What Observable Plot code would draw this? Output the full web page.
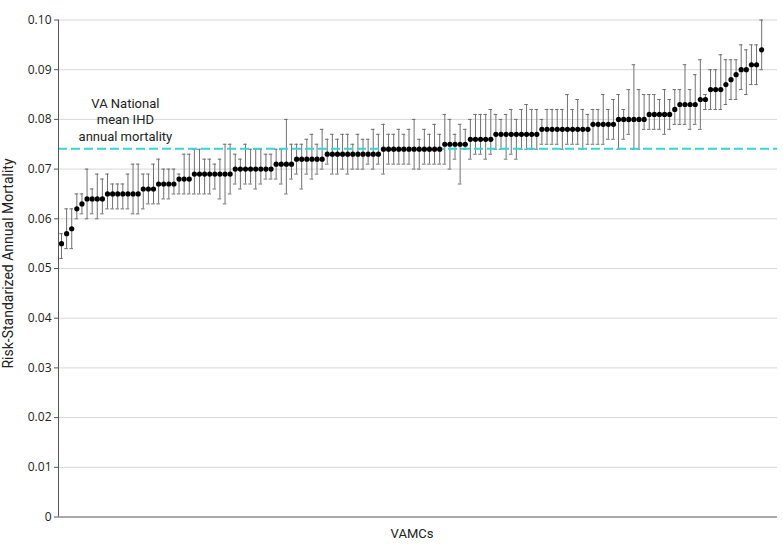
<!DOCTYPE html>
<html>
<head>
<meta charset="utf-8">
<script src="https://cdn.jsdelivr.net/npm/d3@7"></script>
<script src="https://cdn.jsdelivr.net/npm/@observablehq/plot@0.6"></script>
<style>
  html, body { margin: 0; padding: 0; background: #fff; }
  #chart svg { display: block; }
</style>
</head>
<body>
<div id="chart"></div>
<script>
// Risk-standardized annual mortality per VAMC (sorted), with interval bounds
const mortality = [
  0.055, 0.057, 0.058, 0.062, 0.063, 0.064, 0.064, 0.064, 0.064, 0.065,
  0.065, 0.065, 0.065, 0.065, 0.065, 0.065, 0.066, 0.066, 0.066, 0.067,
  0.067, 0.067, 0.067, 0.068, 0.068, 0.068, 0.069, 0.069, 0.069, 0.069,
  0.069, 0.069, 0.069, 0.069, 0.070, 0.070, 0.070, 0.070, 0.070, 0.070,
  0.070, 0.070, 0.071, 0.071, 0.071, 0.071, 0.072, 0.072, 0.072, 0.072,
  0.072, 0.072, 0.073, 0.073, 0.073, 0.073, 0.073, 0.073, 0.073, 0.073,
  0.073, 0.073, 0.073, 0.074, 0.074, 0.074, 0.074, 0.074, 0.074, 0.074,
  0.074, 0.074, 0.074, 0.074, 0.074, 0.075, 0.075, 0.075, 0.075, 0.075,
  0.076, 0.076, 0.076, 0.076, 0.076, 0.077, 0.077, 0.077, 0.077, 0.077,
  0.077, 0.077, 0.077, 0.077, 0.078, 0.078, 0.078, 0.078, 0.078, 0.078,
  0.078, 0.078, 0.078, 0.078, 0.079, 0.079, 0.079, 0.079, 0.079, 0.080,
  0.080, 0.080, 0.080, 0.080, 0.080, 0.081, 0.081, 0.081, 0.081, 0.081,
  0.082, 0.083, 0.083, 0.083, 0.083, 0.084, 0.084, 0.086, 0.086, 0.086,
  0.087, 0.088, 0.089, 0.090, 0.090, 0.091, 0.091, 0.094
];
const lower = [
  0.052, 0.054, 0.054, 0.060, 0.061, 0.060, 0.061, 0.060, 0.061, 0.062,
  0.062, 0.062, 0.062, 0.062, 0.061, 0.061, 0.062, 0.063, 0.063, 0.063,
  0.064, 0.064, 0.065, 0.065, 0.065, 0.065, 0.065, 0.065, 0.065, 0.065,
  0.066, 0.064, 0.063, 0.065, 0.067, 0.066, 0.067, 0.067, 0.066, 0.067,
  0.068, 0.068, 0.068, 0.067, 0.065, 0.068, 0.069, 0.066, 0.069, 0.068,
  0.069, 0.070, 0.071, 0.069, 0.069, 0.070, 0.069, 0.070, 0.070, 0.070,
  0.071, 0.070, 0.071, 0.069, 0.071, 0.071, 0.071, 0.071, 0.071, 0.070,
  0.070, 0.071, 0.071, 0.071, 0.071, 0.071, 0.070, 0.072, 0.067, 0.074,
  0.072, 0.073, 0.073, 0.072, 0.073, 0.074, 0.074, 0.072, 0.073, 0.072,
  0.074, 0.074, 0.074, 0.074, 0.075, 0.075, 0.075, 0.075, 0.074, 0.075,
  0.075, 0.075, 0.074, 0.075, 0.075, 0.075, 0.075, 0.076, 0.076, 0.074,
  0.076, 0.077, 0.074, 0.074, 0.078, 0.078, 0.078, 0.078, 0.077, 0.078,
  0.079, 0.079, 0.079, 0.078, 0.079, 0.078, 0.082, 0.082, 0.082, 0.082,
  0.083, 0.084, 0.084, 0.086, 0.085, 0.087, 0.087, 0.090
];
const upper = [
  0.057, 0.062, 0.062, 0.065, 0.065, 0.070, 0.066, 0.069, 0.068, 0.069,
  0.067, 0.067, 0.067, 0.069, 0.071, 0.071, 0.069, 0.069, 0.071, 0.072,
  0.070, 0.070, 0.070, 0.069, 0.073, 0.073, 0.074, 0.074, 0.072, 0.072,
  0.071, 0.072, 0.075, 0.075, 0.073, 0.072, 0.075, 0.074, 0.074, 0.074,
  0.073, 0.073, 0.074, 0.074, 0.080, 0.075, 0.075, 0.075, 0.076, 0.077,
  0.075, 0.078, 0.076, 0.077, 0.076, 0.077, 0.077, 0.075, 0.077, 0.076,
  0.076, 0.078, 0.077, 0.079, 0.077, 0.077, 0.078, 0.077, 0.078, 0.080,
  0.076, 0.078, 0.077, 0.079, 0.077, 0.081, 0.080, 0.077, 0.079, 0.078,
  0.080, 0.081, 0.081, 0.081, 0.082, 0.081, 0.080, 0.081, 0.082, 0.080,
  0.082, 0.083, 0.082, 0.082, 0.080, 0.082, 0.082, 0.082, 0.082, 0.085,
  0.082, 0.084, 0.082, 0.081, 0.082, 0.082, 0.085, 0.082, 0.084, 0.085,
  0.082, 0.086, 0.091, 0.086, 0.085, 0.085, 0.085, 0.084, 0.086, 0.084,
  0.086, 0.086, 0.091, 0.086, 0.089, 0.092, 0.085, 0.090, 0.090, 0.093,
  0.092, 0.092, 0.092, 0.095, 0.094, 0.095, 0.095, 0.100
];
const nationalMean = 0.0741;
const yTicks = [0, 0.01, 0.02, 0.03, 0.04, 0.05, 0.06, 0.07, 0.08, 0.09, 0.10];
const annotation = "VA National\nmean IHD\nannual mortality";
const yLabel = "Risk-Standarized Annual Mortality";
const xLabel = "VAMCs";

const data = mortality.map((v, k) => ({i: k + 1, v, lo: lower[k], hi: upper[k]}));
const xDomain = [0.413, mortality.length + 3.1];
const cap = 0.35;
const barColor = "#707070";

const chart = Plot.plot({
  width: 783,
  height: 551,
  marginTop: 19.5,
  marginBottom: 34.5,
  marginLeft: 58,
  marginRight: 6,
  style: {fontFamily: "Roboto, sans-serif", fontSize: "13px", color: "#222", background: "#fff"},
  x: {type: "linear", domain: xDomain, axis: null},
  y: {domain: [0, 0.10]},
  marks: [
    Plot.gridY(yTicks.slice(1), {stroke: "#d8d8d8", strokeOpacity: 1}),
    Plot.ruleX(data, {x: "i", y1: "lo", y2: "hi", stroke: barColor, strokeWidth: 1}),
    Plot.ruleY(data, {y: "lo", x1: d => d.i - cap, x2: d => d.i + cap, stroke: barColor, strokeWidth: 1}),
    Plot.ruleY(data, {y: "hi", x1: d => d.i - cap, x2: d => d.i + cap, stroke: barColor, strokeWidth: 1}),
    Plot.ruleY([nationalMean], {stroke: "#35d5d8", strokeWidth: 2, strokeDasharray: "9,4"}),
    Plot.dot(data, {x: "i", y: "v", r: 2.6, fill: "#000", stroke: "none"}),
    Plot.ruleY([0], {stroke: "#555", strokeWidth: 1}),
    Plot.ruleX([xDomain[0]], {stroke: "#555", strokeWidth: 1}),
    Plot.axisY({
      ticks: yTicks,
      tickSize: 4,
      tickPadding: 3,
      tickFormat: d => d === 0 ? "0" : d.toFixed(2),
      fontFamily: "Open Sans, sans-serif",
      fontSize: 12,
      stroke: "#555",
      label: null
    }),
    Plot.text([yLabel], {
      frameAnchor: "left",
      dx: -50,
      dy: -5,
      rotate: -90,
      textAnchor: "middle",
      text: d => d,
      fontSize: 14,
      fill: "#222"
    }),
    Plot.text([xLabel], {
      frameAnchor: "bottom",
      dy: 21,
      dx: -6,
      text: d => d,
      fontSize: 13,
      fill: "#222"
    }),
    Plot.text([annotation], {
      x: [13.5],
      y: [0.0801],
      text: d => d,
      lineHeight: 1.28,
      fontSize: 13,
      fill: "#222",
      textAnchor: "middle"
    })
  ]
});
document.getElementById("chart").append(chart);
</script>
</body>
</html>
